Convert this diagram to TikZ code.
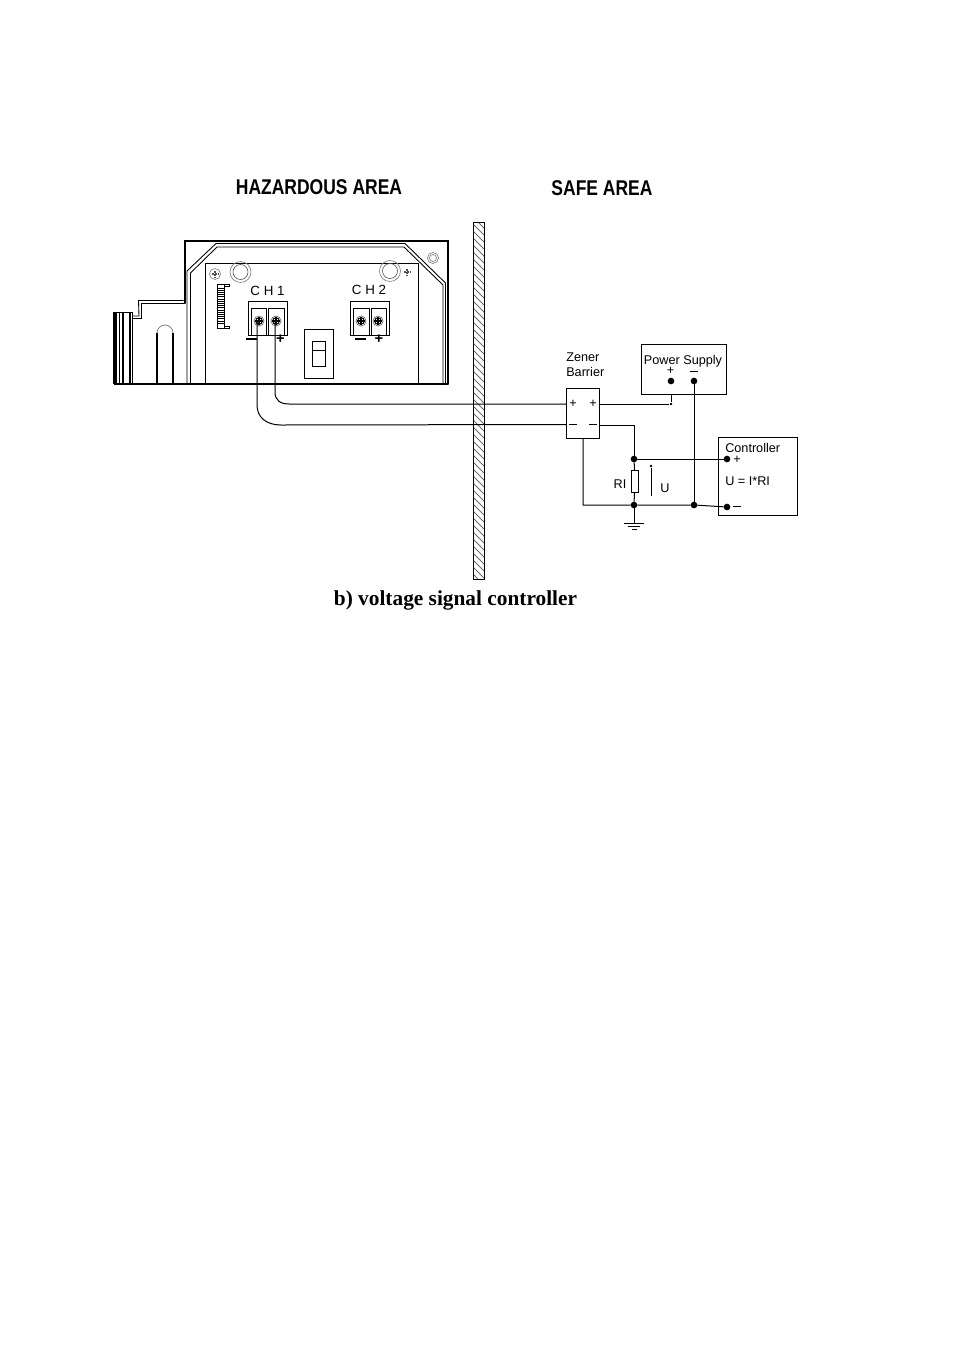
\documentclass[tikz,border=0pt]{standalone}
\usepackage{fontspec}
\setmainfont{Liberation Sans}
\newfontfamily\capfont{Liberation Serif}
\tikzset{
  px/.style={x=0.75pt,y=-0.75pt},
  wire/.style={line width=0.75pt,black},
  thin wall/.style={line width=0.65pt,black},
  heavy/.style={line width=1.5pt,black},
  thick wall/.style={line width=0.85pt,black},
  box/.style={draw,line width=0.7pt,inner sep=0pt,outer sep=0pt,fill=white},
  jdot/.style={circle,fill=black,inner sep=0pt,minimum size=5pt,outer sep=0pt},
  lab/.style={inner sep=0pt,font=\fontsize{9.5pt}{11pt}\selectfont},
  leftlab/.style={lab,anchor=west},
  title/.style={inner sep=0pt,xscale=0.82,font=\fontsize{16pt}{18pt}\selectfont\bfseries},
  chlab/.style={inner sep=0pt,font=\fontsize{10pt}{11pt}\selectfont},
  pm/.style={inner sep=0pt,font=\fontsize{11pt}{11pt}\selectfont\bfseries},
  screwpic/.pic={
    \draw[line width=0.5pt,gray!80!black] (0,0) circle[radius=5];
    \draw[line width=0.7pt,black] (0,0) circle[radius=3.3];
    \draw[line width=0.8pt,black] (-3.6,0) -- (3.6,0) (0,-3.6) -- (0,3.6);
  }
}
\begin{document}
\begin{tikzpicture}[px]
\useasboundingbox (0,0) rectangle (954,1350);
% titles
\node[title] (hz) at (319,187) {HAZARDOUS AREA};
\node[title] (sf) at (602,188) {SAFE AREA};
\node[inner sep=0pt,font=\fontsize{16pt}{18pt}\selectfont\capfont\bfseries] (cap) at (455.5,600) {b) voltage signal controller};
% housing outer
\draw[heavy,line cap=round] (448,384) -- (448,241) -- (185,241) -- (185,303);
\draw[thin wall] (185,303) -- (141,303) -- (141,318) -- (133,318);
\draw[thin wall] (183.5,300.5) -- (138.5,300.5) -- (139,316) -- (133,316);
\draw[thick wall] (114,384) -- (448,384);
% left block
\draw[thin wall] (114,312) -- (133,312);
\foreach \xx in {114,116,119.5,123,130,132.5}{\draw[line width=0.85pt] (\xx,312) -- (\xx,384);}
% slot
\draw[line width=1.1pt] (157,384) -- (157,333);
\draw[line width=1.1pt] (173,384) -- (173,333);
\draw[line width=0.6pt,gray] (157,333) arc[start angle=180,end angle=360,radius=8];
% inner double chamfer
\draw[thin wall] (187,384) -- (187,271) -- (216,243.5) -- (405,243.5) -- (445.5,283) -- (445.5,384);
\draw[thin wall] (190.5,384) -- (190.5,273) -- (217,247) -- (404,247) -- (443,285) -- (443,384);
% plate
\draw[thin wall] (205,384) -- (205,263) -- (418,263) -- (418,384);
% mount circles
\draw[line width=0.5pt,gray] (240.5,272) circle[radius=10.5];
\draw[line width=0.5pt,gray!70!black] (240.5,272) circle[radius=7.5];
\draw[line width=0.5pt,gray] (390,271) circle[radius=10.5];
\draw[line width=0.5pt,gray!70!black] (390,271) circle[radius=7.5];
\draw[line width=0.5pt,gray] (433,258) circle[radius=5.5];
\draw[line width=0.5pt,gray] (433,258) circle[radius=3.5];
\draw[line width=0.5pt,gray] (215,274) circle[radius=5.5];
\draw[line width=1.2pt,gray!60!black,densely dotted] (212,274) -- (218,274) (215,271) -- (215,277);
\draw[line width=1.2pt,gray!60!black,densely dotted] (404,272) -- (410,272) (407,269) -- (407,275);
% connector strip
\draw[thin wall] (217.5,284) rectangle (224.5,328);
\draw[thin wall] (224.5,284) -- (229,284) -- (229,286) -- (224.5,286);
\draw[thin wall] (224.5,326) -- (229,326) -- (229,328) -- (224.5,328);
\foreach \k in {0,...,16}{\draw[line width=0.7pt] (218,{288+\k*2.2}) -- (224.5,{288+\k*2.2});}
% CH1 terminal
\node[chlab] (ch1) at (267.5,291) {C H 1};
\draw[thin wall] (248,335) -- (248,301) -- (287,301) -- (287,335) -- cycle;
\draw[thin wall] (251,335) -- (251,308) -- (266,308) -- (266,335);
\draw[thin wall] (268.5,335) -- (268.5,308) -- (284,308) -- (284,335);
\pic at (259,321) {screwpic};
\pic at (276,321) {screwpic};
\coordinate (tm1) at (257,321);
\coordinate (tp1) at (275,321);
\node[pm] (m1) at (251.5,339) {\rule{8pt}{1.3pt}};
\node[pm] (p1) at (280.5,339) {+};
% CH2 terminal
\node[chlab] (ch2) at (369,290) {C H 2};
\draw[thin wall] (350,335) -- (350,301) -- (389,301) -- (389,335) -- cycle;
\draw[thin wall] (353,335) -- (353,308) -- (369,308) -- (369,335);
\draw[thin wall] (371,335) -- (371,308) -- (386,308) -- (386,335);
\pic at (361,321) {screwpic};
\pic at (378,321) {screwpic};
\node[pm] (m2) at (360.5,339) {\rule{8pt}{1.3pt}};
\node[pm] (p2) at (379,339) {+};
% switch
\draw[thin wall] (304,329) rectangle (333,378);
\draw[thin wall] (312,341) rectangle (325,366);
\draw[thin wall] (312,350) -- (325,350);
% wall
\begin{scope}
\clip (473,222) rectangle (484,579);
\foreach \k in {0,...,52}{\draw[line width=0.6pt,gray!85!black] (470,{214+\k*7}) -- (488,{232+\k*7});}
\end{scope}
\draw[line width=0.7pt,black] (473,222) rectangle (484,579);
% boxes
\node[box,minimum width=24.75pt,minimum height=37.5pt] (zener) at (582.5,413) {};
\node[box,minimum width=63.75pt,minimum height=37.5pt] (psu) at (683.5,369) {};
\node[box,minimum width=59.25pt,minimum height=58.5pt] (ctrl) at (757.5,476) {};
\node[box,minimum width=5.25pt,minimum height=16.5pt] (rl) at (634.5,481) {};
% zener labels
\node[leftlab] (zt1) at (566,357) {Zener};
\node[leftlab] (zt2) at (566,372) {Barrier};
\node[lab] (zp1) at (573,404) {+};
\node[lab] (zp2) at (593,404) {+};
\node[lab] (zm1) at (573,424.5) {\rule{5.5pt}{0.5pt}};
\node[lab] (zm2) at (593,424.5) {\rule{5.5pt}{0.5pt}};
% psu labels
\node[lab] (pst) at (683,361) {Power Supply};
\node[lab] (psp) at (670.5,371) {+};
\node[lab] (psm) at (693.5,371.5) {\rule{6pt}{0.5pt}};
% controller labels
\node[leftlab] (ct) at (725,447.5) {Controller};
\node[leftlab] (cu) at (725,481) {U = I*RI};
\node[lab] (cp) at (737,460) {+};
\node[lab] (cm) at (737,506.5) {\rule{5.5pt}{0.5pt}};
% dots
\node[jdot] (dpp) at (671,381) {};
\node[jdot] (dpm) at (694,381) {};
\node[jdot] (dt) at (634,459) {};
\node[jdot] (db) at (634,505) {};
\node[jdot] (dm) at (694,505) {};
\node[jdot] (cdp) at (727,459) {};
\node[jdot] (cdm) at (727,507) {};
\node[circle,fill=black,inner sep=0pt,minimum size=2pt] (pj) at (671,404) {};
\node[circle,fill=black,inner sep=0pt,minimum size=2.2pt] (utop) at (651,466) {};
\coordinate (ubot) at (651,496);
% labels R, U
\node[lab] (rlt) at (620,484) {RI};
\node[lab] (ut) at (665,488) {U};
% wires to barrier
\draw[wire] (tp1) -- (275,392) .. controls (275,400) and (280,404) .. (289,404) -- (zener.west |- zp1);
\draw[wire] (tm1) -- (257,405) .. controls (257,417) and (266,425) .. (281,425) -- (zener.west |- zm1);
% safe side
\draw[wire] (zener.east |- pj) -- (pj) -- (psu.south -| pj);
\draw[wire] (zener.east |- 0,425) -- (634,425) -- (dt);
\draw[wire] (dt) -- (rl.north);
\draw[wire] (rl.south) -- (db);
\draw[wire] (dt) -- (cdp);
\draw[wire] (dpm) -- (dm);
\draw[wire] (zener.south -| 583,0) -- (583,505) -- (db) -- (dm) -- (cdm);
\draw[wire] (utop) -- (ubot);
% ground
\coordinate (gnd) at (634,523);
\draw[wire] (db) -- (gnd);
\draw[wire] (624,523) -- (644,523);
\draw[wire] (628,526) -- (640,526);
\draw[wire] (632,529) -- (637,529);
\end{tikzpicture}
\end{document}
